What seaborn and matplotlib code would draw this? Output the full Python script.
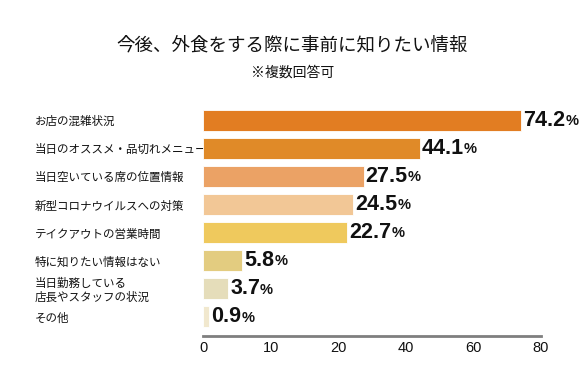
import numpy as np
import matplotlib
matplotlib.use("Agg")
import matplotlib.pyplot as plt
import seaborn as sns

# ---- data ----
categories = [
    "お店の混雑状況",
    "当日のオススメ・品切れメニュー",
    "当日空いている席の位置情報",
    "新型コロナウイルスへの対策",
    "テイクアウトの営業時間",
    "特に知りたい情報はない",
    "当日勤務している\n店長やスタッフの状況",
    "その他",
]
values = [74.2, 44.1, 27.5, 24.5, 22.7, 5.8, 3.7, 0.9]
colors = ["#E27D22", "#E08A28", "#EBA265", "#F2C796",
          "#EFC95D", "#E3CC80", "#E5DDBA", "#F1E8CE"]
ticks = [0, 10, 20, 40, 60, 80]

sns.set_theme(style="white")
plt.rcParams['font.family'] = ['Noto Sans CJK JP', 'DejaVu Sans']

fig = plt.figure(figsize=(5.85, 3.87), dpi=100)
ax = fig.add_axes([203 / 585, 1 - 335.5 / 387, 338 / 585, 235.5 / 387])

sns.barplot(x=values, y=categories, hue=categories, palette=colors,
            legend=False, width=0.75, orient="h", ax=ax, saturation=1,
            edgecolor="white", linewidth=0.6)

# axis ticks are evenly spaced but not linear -> piecewise scale
pos = np.arange(len(ticks), dtype=float)
ax.set_xscale("function", functions=(lambda v: np.interp(v, ticks, pos),
                                     lambda p: np.interp(p, pos, ticks)))
ax.set_xlim(0, 80)
ax.set_ylim(7.66, -0.72)
ax.set_xticks(ticks, [str(t) for t in ticks])
ax.tick_params(axis="x", length=0, pad=4, colors="#111111")
for lab in ax.get_xticklabels():
    lab.set_family(["Liberation Sans", "DejaVu Sans"])
    lab.set_fontsize(10.5)

# category labels, left aligned at the figure margin
ax.set_yticks(range(len(categories)), categories)
ax.tick_params(axis="y", length=0, pad=121, labelsize=8.3)
for lab in ax.get_yticklabels():
    lab.set_horizontalalignment("left")
    lab.set_color("#111111")
    lab.set_linespacing(1.1)

for s in ["top", "right", "left"]:
    ax.spines[s].set_visible(False)
ax.spines["bottom"].set_color("#7f7f7f")
ax.spines["bottom"].set_linewidth(2)
ax.set_xlabel("")
ax.set_ylabel("")

# value labels: bold number + smaller %
for i, v in enumerate(values):
    num = ax.annotate(f"{v:.1f}", xy=(v, i), xytext=(1.5, 0),
                      textcoords="offset points", ha="left", va="center",
                      fontsize=15.5, fontweight="bold", color="#111111",
                      family=["Liberation Sans", "DejaVu Sans"])
    ax.annotate("%", xy=(1, 0), xycoords=num, xytext=(0, 2),
                textcoords="offset points", ha="left", va="bottom",
                fontsize=10.5, fontweight="bold", color="#111111",
                family=["Liberation Sans", "DejaVu Sans"])

fig.text(0.5, 1 - 46 / 387, "今後、外食をする際に事前に知りたい情報",
         ha="center", va="center", fontsize=13.3, color="#111111")
fig.text(0.5, 1 - 73 / 387, "※複数回答可",
         ha="center", va="center", fontsize=10, color="#111111")

fig.savefig("out.png", dpi=100)
